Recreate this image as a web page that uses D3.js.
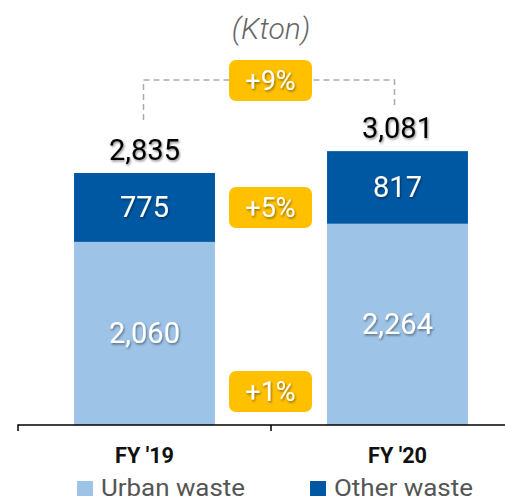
<!DOCTYPE html>
<html>
<head>
<meta charset="utf-8">
<script src="https://cdn.jsdelivr.net/npm/d3@7"></script>
<style>
  body { margin: 0; background: #fff; }
  text { font-family: Roboto, "Liberation Sans", sans-serif; }
</style>
</head>
<body>
<div id="chart"></div>
<script>
var years = ["FY '19", "FY '20"];
var urbanWaste = [2060, 2264];
var otherWaste = [775, 817];
var totals = [2835, 3081];
var growthLabels = ["+9%", "+5%", "+1%"];
var seriesNames = ["Urban waste", "Other waste"];
var colors = ["#9dc3e6", "#0058a3"];

var svgWidth = 505;
var svgHeight = 502;

var svg = d3.select("#chart")
  .append("svg")
  .attr("width", svgWidth)
  .attr("height", svgHeight);

var x = d3.scaleBand()
  .domain(years)
  .range([18, 524]);

var y = d3.scaleLinear()
  .domain([0, 4500])
  .range([425, 25]);

var barW = x.bandwidth() * 0.557;
var fmt = d3.format(",");

var defs = svg.append("defs");
var shadow = defs.append("filter").attr("id", "shadow")
  .attr("x", "-20%").attr("y", "-20%").attr("width", "140%").attr("height", "140%");
shadow.append("feDropShadow")
  .attr("dx", 1).attr("dy", 1.5).attr("stdDeviation", 0.8)
  .attr("flood-color", "#000").attr("flood-opacity", 0.45);

// stacked data
var stackData = years.map(function(yr, i) {
  return { year: yr, urban: urbanWaste[i], other: otherWaste[i] };
});
var stack = d3.stack().keys(["urban", "other"])(stackData);

var layers = svg.selectAll("g.layer")
  .data(stack)
  .enter()
  .append("g")
  .attr("class", "layer")
  .attr("fill", (d, i) => colors[i]);

layers.selectAll("rect")
  .data(d => d)
  .enter()
  .append("rect")
  .attr("x", d => x(d.data.year) + (x.bandwidth() - barW) / 2)
  .attr("y", d => y(d[1]))
  .attr("width", barW)
  .attr("height", d => y(d[0]) - y(d[1]));

// values inside bars
layers.selectAll("text")
  .data(d => d)
  .enter()
  .append("text")
  .attr("x", d => x(d.data.year) + x.bandwidth() / 2)
  .attr("y", d => (y(d[0]) + y(d[1])) / 2 + 10)
  .attr("text-anchor", "middle")
  .attr("fill", "#fff")
  .attr("filter", "url(#shadow)")
  .style("font-size", "29px")
  .text(d => fmt(d[1] - d[0]));

// totals
svg.selectAll("text.total")
  .data(totals)
  .enter()
  .append("text")
  .attr("class", "total")
  .attr("x", (d, i) => x(years[i]) + x.bandwidth() / 2)
  .attr("y", d => y(d) - 13)
  .attr("text-anchor", "middle")
  .attr("fill", "#000")
  .attr("filter", "url(#shadow)")
  .style("font-size", "29px")
  .text(d => fmt(d));

// dashed connector
var cx0 = x(years[0]) + x.bandwidth() / 2 - 1;
var cx1 = x(years[1]) + x.bandwidth() / 2 - 3;
svg.append("path")
  .attr("d", `M${cx0},${y(totals[0]) - 53} V80 H${cx1} V${y(totals[1]) - 46}`)
  .attr("fill", "none")
  .attr("stroke", "#aaa")
  .attr("stroke-width", 1.5)
  .attr("stroke-dasharray", "6,4");

// growth badges
var badgeY = [60, 187, 371];
var badges = svg.selectAll("g.badge")
  .data(growthLabels)
  .enter()
  .append("g")
  .attr("class", "badge")
  .attr("transform", (d, i) => `translate(229, ${badgeY[i]})`);

badges.append("rect")
  .attr("width", 83)
  .attr("height", 41)
  .attr("rx", 7)
  .attr("fill", "#ffc000");

badges.append("text")
  .attr("x", 41.5)
  .attr("y", 30)
  .attr("text-anchor", "middle")
  .attr("fill", "#fff")
  .attr("filter", "url(#shadow)")
  .style("font-size", "27px")
  .text(d => d);

// unit label
svg.append("text")
  .attr("x", 271)
  .attr("y", 39)
  .attr("text-anchor", "middle")
  .attr("fill", "#666")
  .style("font-size", "30px")
  .style("font-style", "italic")
  .style("font-weight", 300)
  .text("(Kton)");

// x axis
var axisG = svg.append("g")
  .attr("transform", "translate(0,425)");
axisG.append("path")
  .attr("d", "M18,6 V0 H505")
  .attr("fill", "none")
  .attr("stroke", "#000")
  .attr("stroke-width", 1.5);
axisG.selectAll("line.tick")
  .data(years.slice(1))
  .enter()
  .append("line")
  .attr("x1", d => x(d))
  .attr("x2", d => x(d))
  .attr("y1", 0)
  .attr("y2", 6)
  .attr("stroke", "#000")
  .attr("stroke-width", 1.5);

axisG.selectAll("text.year")
  .data(years)
  .enter()
  .append("text")
  .attr("class", "year")
  .attr("x", d => x(d) + x.bandwidth() / 2)
  .attr("y", 38)
  .attr("text-anchor", "middle")
  .attr("fill", "#111")
  .attr("textLength", 59)
  .attr("lengthAdjust", "spacingAndGlyphs")
  .style("font-size", "22px")
  .style("font-weight", "bold")
  .text(d => d);

// legend
var legendX = [77, 310];
var legendW = [144, 139];
var legend = svg.selectAll("g.legend")
  .data(seriesNames)
  .enter()
  .append("g")
  .attr("class", "legend")
  .attr("transform", (d, i) => `translate(${legendX[i]}, 481)`);

legend.append("rect")
  .attr("width", 16)
  .attr("height", 15)
  .attr("fill", (d, i) => colors[i]);

legend.append("text")
  .attr("x", 24)
  .attr("y", 15)
  .attr("fill", "#555")
  .attr("textLength", (d, i) => legendW[i])
  .attr("lengthAdjust", "spacingAndGlyphs")
  .style("font-size", "24px")
  .text(d => d);
</script>
</body>
</html>
